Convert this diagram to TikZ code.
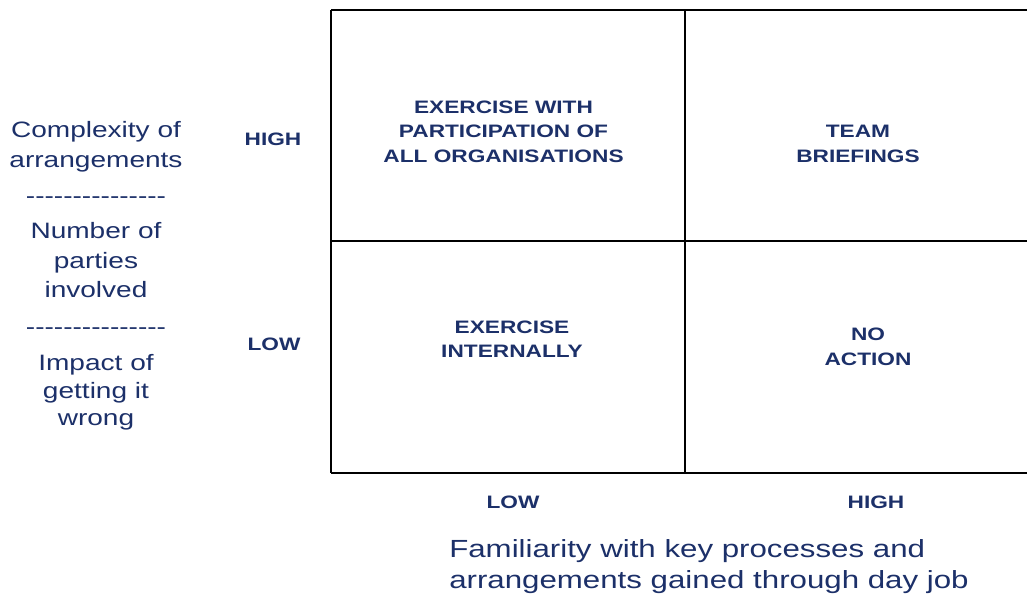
\documentclass[tikz,border=0pt]{standalone}
\usepackage{fontspec}
\setmainfont{Liberation Sans}
\newfontfamily\dashfont{Liberation Sans}[Ligatures=TeXOff]
\usepackage{graphicx}
\definecolor{navy}{RGB}{28,48,105}
\newcommand\wid[1]{\scalebox{1.26}[1]{#1}}
\begin{document}
\begin{tikzpicture}[x=0.75pt,y=-0.75pt,
  gridline/.style={line width=1.8pt, black},
  celltxt/.style={anchor=base, inner sep=0pt, text=navy, font=\fontsize{13.5}{16}\selectfont\bfseries},
  sidetxt/.style={anchor=base, inner sep=0pt, text=navy, font=\fontsize{16.7}{20}\selectfont},
  axistxt/.style={anchor=base west, inner sep=0pt, text=navy, font=\fontsize{18.6}{22}\selectfont}]
\clip (0,0) rectangle (1027,597);
\fill[white] (0,0) rectangle (1027,597);
% grid
\coordinate (tl) at (331,10);
\coordinate (ml) at (331,241);
\coordinate (bl) at (331,473);
\coordinate (tm) at (685,10);
\coordinate (bm) at (685,473);
\coordinate (tr) at (1045,10);
\coordinate (mr) at (1045,241);
\coordinate (br) at (1045,473);
\draw[gridline] (tl) -- (tr);
\draw[gridline] (ml) -- (mr);
\draw[gridline] (bl) -- (br);
\draw[gridline] (tl) -- (bl);
\draw[gridline] (tm) -- (bm);
% cells
\node[celltxt] (a1) at (503.5,113) {\wid{EXERCISE WITH}};
\node[celltxt] (a2) at (503.5,137) {\wid{PARTICIPATION OF}};
\node[celltxt] (a3) at (503.5,162) {\wid{ALL ORGANISATIONS}};
\node[celltxt] (b1) at (858,137) {\wid{TEAM}};
\node[celltxt] (b2) at (858,162) {\wid{BRIEFINGS}};
\node[celltxt] (c1) at (512,333) {\wid{EXERCISE}};
\node[celltxt] (c2) at (512,357) {\wid{INTERNALLY}};
\node[celltxt] (d1) at (868,340) {\wid{NO}};
\node[celltxt] (d2) at (868,365) {\wid{ACTION}};
% axis levels
\node[celltxt] (hy) at (273,145) {\wid{HIGH}};
\node[celltxt] (ly) at (274,350) {\wid{LOW}};
\node[celltxt] (lx) at (513,508.5) {\wid{LOW}};
\node[celltxt] (hx) at (876,508.5) {\wid{HIGH}};
% left column
\node[sidetxt] (s1) at (96,137) {\wid{Complexity of}};
\node[sidetxt] (s2) at (96,167) {\wid{arrangements}};
\node[sidetxt] (s3) at (96,203) {\wid{\dashfont ---------------}};
\node[sidetxt] (s4) at (96,238) {\wid{Number of}};
\node[sidetxt] (s5) at (96,268) {\wid{parties}};
\node[sidetxt] (s6) at (96,297) {\wid{involved}};
\node[sidetxt] (s7) at (96,334) {\wid{\dashfont ---------------}};
\node[sidetxt] (s8) at (96,370) {\wid{Impact of}};
\node[sidetxt] (s9) at (96,398) {\wid{getting it}};
\node[sidetxt] (s10) at (96,425) {\wid{wrong}};
% bottom axis title
\node[axistxt] (f1) at (449,557.7) {\wid{Familiarity with key processes and}};
\node[axistxt] (f2) at (449,588) {\wid{arrangements gained through day job}};
\end{tikzpicture}
\end{document}
